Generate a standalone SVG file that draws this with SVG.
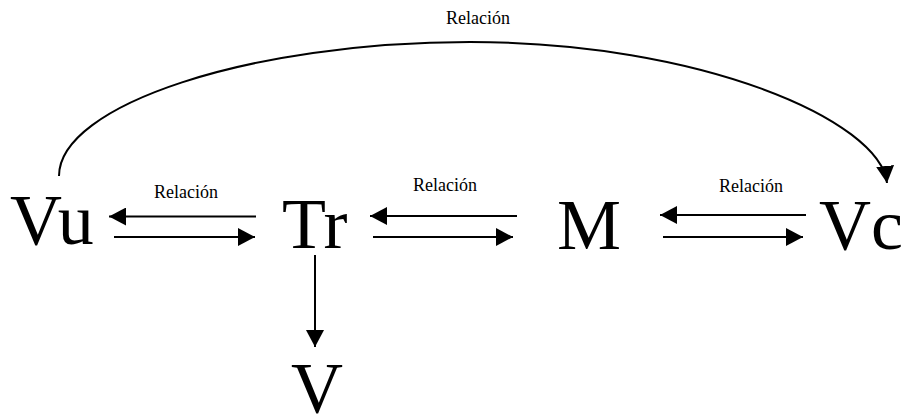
<svg xmlns="http://www.w3.org/2000/svg" width="908" height="416" viewBox="0 0 908 416">
<style>
.node{font-family:'Liberation Serif',serif;font-size:72px;fill:#000}
.lbl{font-family:'Liberation Serif',serif;font-size:18px;fill:#000}
.conn{stroke:#000;stroke-width:2;fill:none;marker-end:url(#ah)}
</style>
<defs>
<marker id="ah" markerUnits="userSpaceOnUse" markerWidth="18" markerHeight="18" refX="17" refY="9" orient="auto">
<path d="M0,0 L17,9 L0,18 z" fill="#000"/>
</marker>
</defs>
<rect width="908" height="416" fill="#fff"/>
<g id="connectors">
<path class="conn" d="M256,216.5 L109,216.5"/>
<path class="conn" d="M114,237 L255,237"/>
<path class="conn" d="M517,216 L370,216"/>
<path class="conn" d="M373,237 L513,237"/>
<path class="conn" d="M806,215 L660,215"/>
<path class="conn" d="M663,237 L803,237"/>
<path class="conn" d="M315,255 L315,347"/>
<path class="conn" d="M59,176 C59,105 250,42 470,42 C700,42 880,120 887,183"/>
<text class="lbl" x="154" y="198">Relación</text>
<text class="lbl" x="413" y="191">Relación</text>
<text class="lbl" x="719" y="192">Relación</text>
<text class="lbl" x="446" y="24">Relación</text>
</g>
<g id="node-Vu"><text class="node" x="10" y="244">Vu</text></g>
<g id="node-Tr"><text class="node" x="282" y="248">Tr</text></g>
<g id="node-M"><text class="node" x="557" y="249">M</text></g>
<g id="node-Vc"><text class="node" x="819" y="249">Vc</text></g>
<g id="node-V"><text class="node" x="291" y="412">V</text></g>
</svg>
